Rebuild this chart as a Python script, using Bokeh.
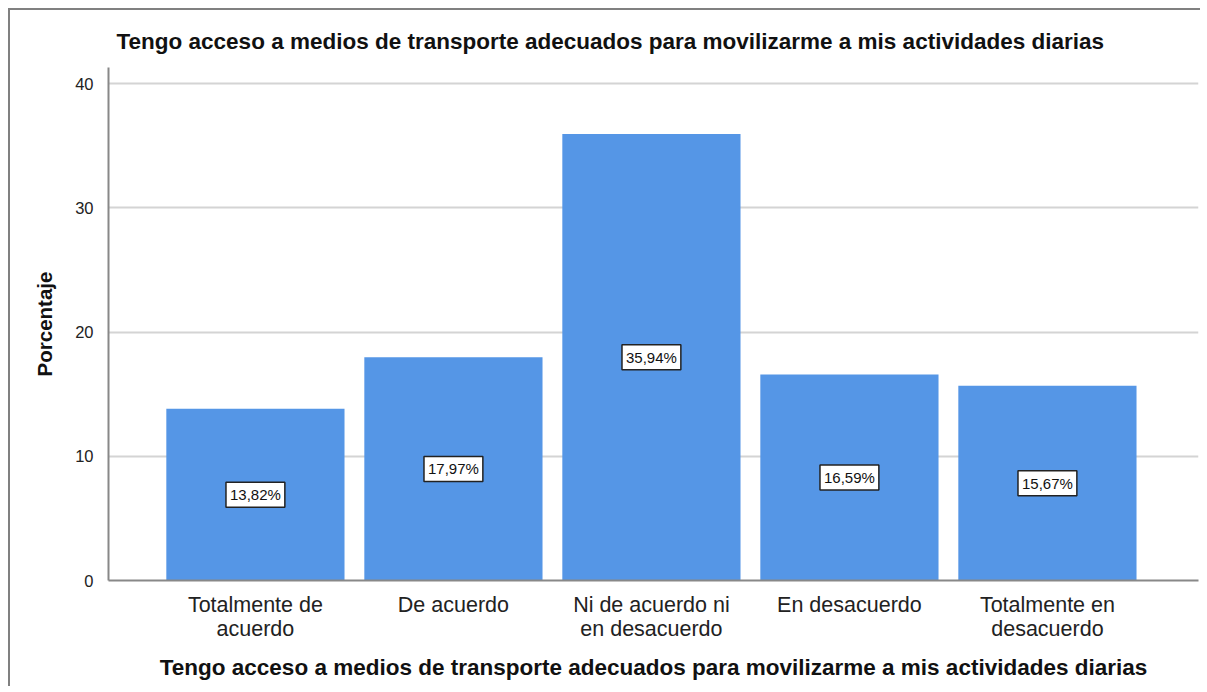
from bokeh.plotting import figure
from bokeh.models import Range1d, FixedTicker, Label
from bokeh.embed import file_html
from bokeh.resources import INLINE

categories = ["Totalmente de\nacuerdo", "De acuerdo", "Ni de acuerdo ni\nen desacuerdo",
              "En desacuerdo", "Totalmente en\ndesacuerdo"]
values = [13.82, 17.97, 35.94, 16.59, 15.67]
value_labels = ["13,82%", "17,97%", "35,94%", "16,59%", "15,67%"]
y_ticks = [0, 10, 20, 30, 40]
title_text = "Tengo acceso a medios de transporte adecuados para movilizarme a mis actividades diarias"

positions = list(range(1, len(categories) + 1))

FONT = "Liberation Sans"

p = figure(width=1192, height=678, output_backend="svg", toolbar_location=None,
           x_range=Range1d(0.258, 5.763), y_range=Range1d(0, 41.3),
           min_border_left=98, min_border_top=57, min_border_right=4, min_border_bottom=108)
p.styles = {"margin-left": "8px", "margin-top": "8px",
            "border-left": "2px solid #808080", "border-top": "2px solid #808080"}

p.title.text = title_text
p.title.text_font = FONT
p.title.text_font_size = "22.5px"
p.title.text_font_style = "bold"
p.title.text_color = "#111111"
p.title.align = "left"
p.title.offset = 8
p.title.standoff = 27

p.vbar(x=positions, top=values, width=0.9, bottom=0, fill_color="#5596E6", line_color=None)

for xi, v, lab in zip(positions, values, value_labels):
    p.add_layout(Label(x=xi, y=v / 2, text=lab, text_font=FONT, text_font_size="15px",
                       text_color="#111111", text_align="center", text_baseline="middle",
                       background_fill_color="white", border_line_color="#222222",
                       border_line_width=1.5, padding=4))

p.outline_line_color = None
p.background_fill_color = "white"
p.border_fill_color = "white"

p.xgrid.grid_line_color = None
p.ygrid.grid_line_color = "#d4d4d4"
p.ygrid.grid_line_width = 2
p.ygrid.ticker = FixedTicker(ticks=y_ticks)

xa = p.xaxis[0]
xa.ticker = FixedTicker(ticks=positions)
xa.major_label_overrides = {pos: c for pos, c in zip(positions, categories)}
xa.major_tick_line_color = None
xa.minor_tick_line_color = None
xa.axis_line_color = "#888888"
xa.axis_line_width = 2
xa.major_label_text_font = FONT
xa.major_label_text_font_size = "21.5px"
xa.major_label_text_line_height = 1.0
xa.major_label_text_color = "#222222"
xa.major_label_standoff = 6
xa.axis_label = title_text
xa.axis_label_text_font = FONT
xa.axis_label_text_font_size = "22.5px"
xa.axis_label_text_font_style = "bold"
xa.axis_label_text_color = "#111111"
xa.axis_label_standoff = 11

ya = p.yaxis[0]
ya.ticker = FixedTicker(ticks=y_ticks)
ya.major_tick_line_color = None
ya.minor_tick_line_color = None
ya.axis_line_color = "#888888"
ya.axis_line_width = 2
ya.major_label_text_font = FONT
ya.major_label_text_font_size = "16.5px"
ya.major_label_text_color = "#222222"
ya.major_label_standoff = 9
ya.axis_label = "Porcentaje"
ya.axis_label_text_font = FONT
ya.axis_label_text_font_size = "20.5px"
ya.axis_label_text_font_style = "bold"
ya.axis_label_text_color = "#111111"
ya.axis_label_standoff = 16

open("out.html", "w").write(file_html(p, INLINE))
